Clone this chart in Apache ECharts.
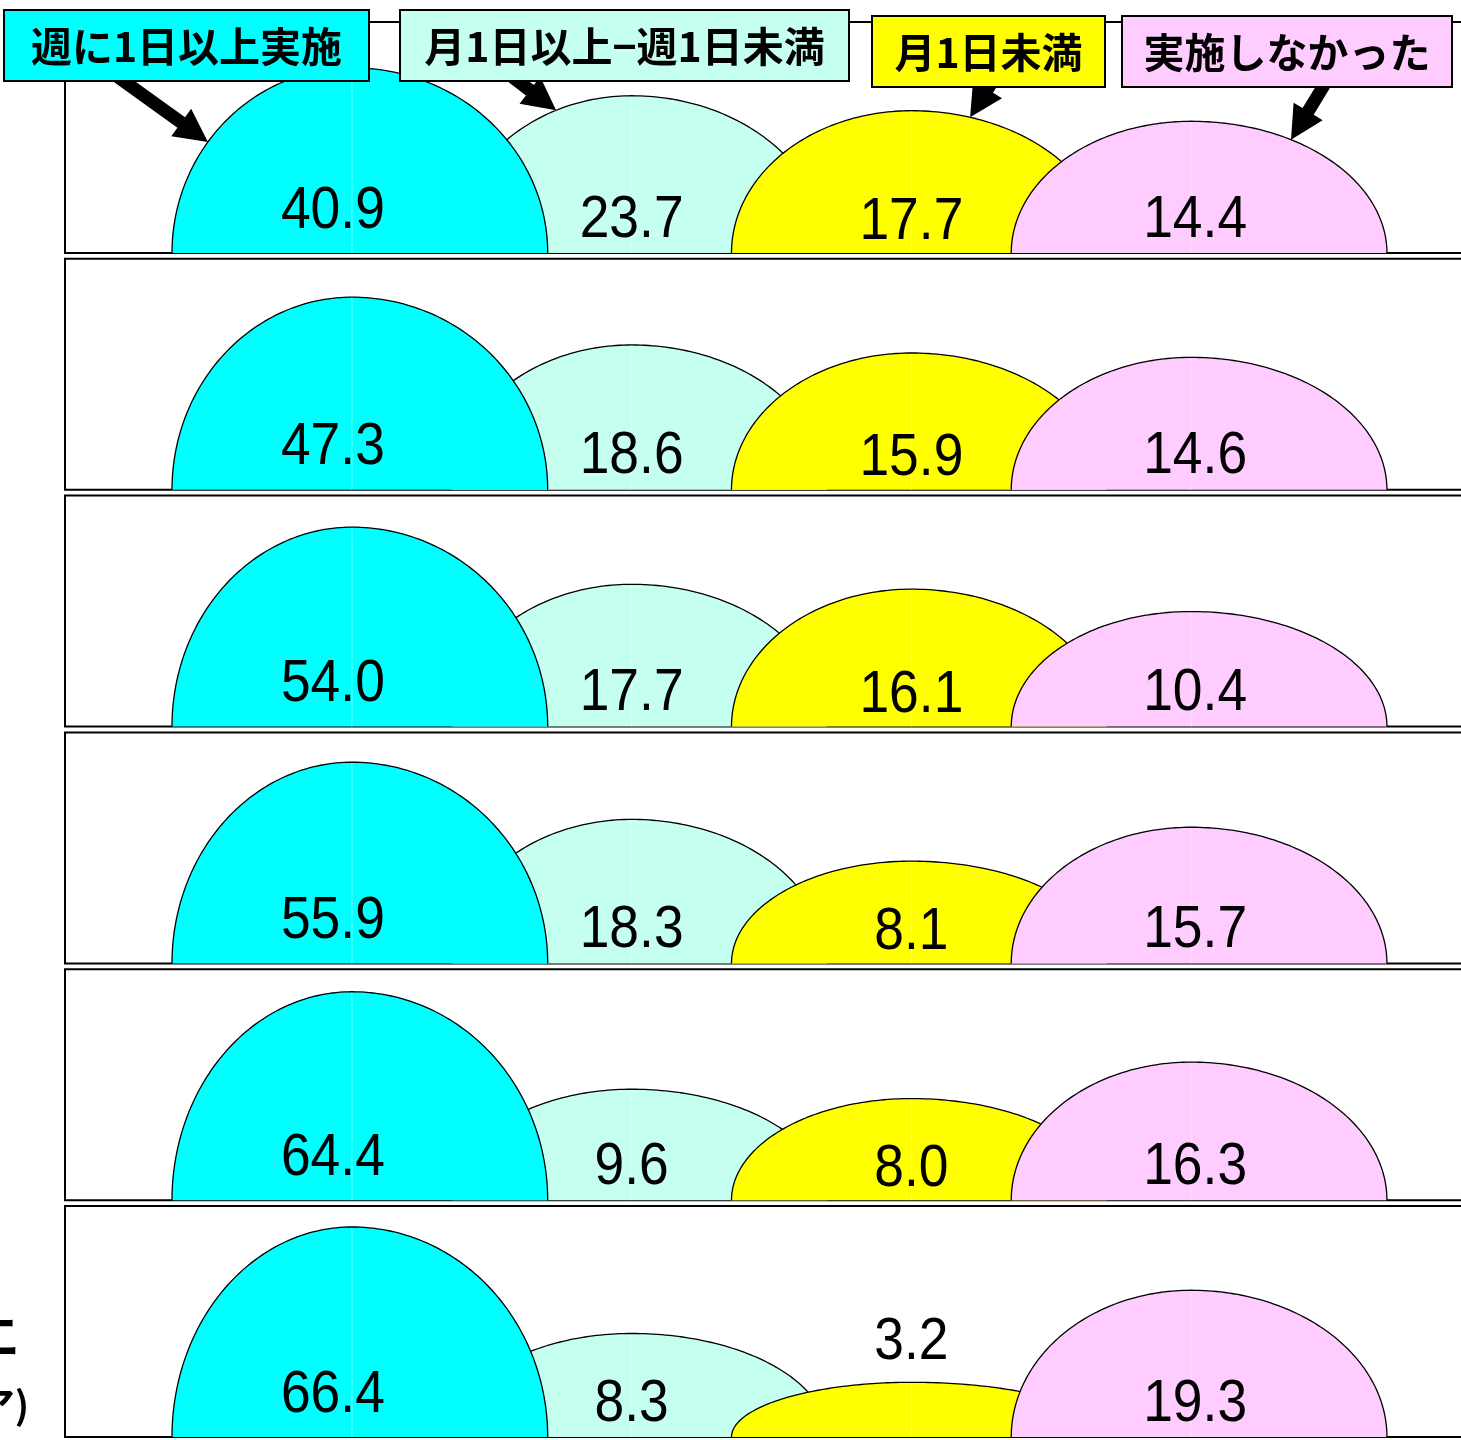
<!DOCTYPE html>
<html>
<head>
<meta charset="utf-8">
<script src="https://cdn.jsdelivr.net/npm/echarts@6/dist/echarts.min.js"></script>
<style>
  html, body { margin: 0; padding: 0; background: #ffffff; }
  #chart { width: 1461px; height: 1440px; }
</style>
</head>
<body>
<div id="chart"></div>
<script>
// Frequency bands (legend order, left to right in every panel)
const categories = ['週に1日以上実施', '月1日以上−週1日未満', '月1日未満', '実施しなかった'];

// Share of respondents (%) per band, one value per panel from top to bottom
const weeklyOrMore    = [40.9, 47.3, 54.0, 55.9, 64.4, 66.4];
const monthlyToWeekly = [23.7, 18.6, 17.7, 18.3, 9.6, 8.3];
const lessThanMonthly = [17.7, 15.9, 16.1, 8.1, 8.0, 3.2];
const notAtAll        = [14.4, 14.6, 10.4, 15.7, 16.3, 19.3];

const bandSeries = [weeklyOrMore, monthlyToWeekly, lessThanMonthly, notAtAll];
const bandColors = ['#00FFFF', '#C4FFF0', '#FFFF00', '#FFCCFF'];

// ---- layout ----
const PANEL_COUNT = weeklyOrMore.length;
const PANEL_TOP = 22;
const PANEL_PITCH = 236.8;
const PANEL_H = 231;
const FRAME_LEFT = 65;
const GRID_LEFT = 212;
const GRID_RIGHT = 130;
const Y_MIN = 1.1;
const Y_MAX = 100;

// dome half-widths as a fraction of the category band (left / right quarter)
const HALF_L = 0.643;
const HALF_R = 0.70;

// value label placement per band
const LABEL_DX = [-19, 0, 0, 4];
const LABEL_LIFT = [42, 33, 31, 33];
const SHORT_DOME = 70;        // below this height the label sits above the dome
const LABEL_ABOVE_GAP = 40;

// legend boxes and their pointer arrows (drawn against the first panel)
const LEGEND_BOXES = [
  { x: 4,    y: 10, w: 365, h: 71 },
  { x: 400,  y: 10, w: 449, h: 71 },
  { x: 872,  y: 16, w: 233, h: 71 },
  { x: 1122, y: 16, w: 330, h: 71 }
];
const ARROW_TAILS = [[118, 77], [510, 75], [992, 82], [1326, 82]];
const ARROW_AT = [-0.8, -0.42, 0.30, 0.51];   // where on the arc the arrow points
const ARROW_HEAD_LEN = 33;
const ARROW_HEAD_HALF = 17;
const ARROW_SHAFT_HALF = 6.5;

function arrowPoints(tail, tip) {
  const dx = tip[0] - tail[0], dy = tip[1] - tail[1];
  const len = Math.sqrt(dx * dx + dy * dy);
  const ux = dx / len, uy = dy / len;
  const nx = -uy, ny = ux;
  const bx = tip[0] - ux * ARROW_HEAD_LEN, by = tip[1] - uy * ARROW_HEAD_LEN;
  return [
    [tail[0] + nx * ARROW_SHAFT_HALF, tail[1] + ny * ARROW_SHAFT_HALF],
    [bx + nx * ARROW_SHAFT_HALF, by + ny * ARROW_SHAFT_HALF],
    [bx + nx * ARROW_HEAD_HALF, by + ny * ARROW_HEAD_HALF],
    [tip[0], tip[1]],
    [bx - nx * ARROW_HEAD_HALF, by - ny * ARROW_HEAD_HALF],
    [bx - nx * ARROW_SHAFT_HALF, by - ny * ARROW_SHAFT_HALF],
    [tail[0] - nx * ARROW_SHAFT_HALF, tail[1] - ny * ARROW_SHAFT_HALF]
  ];
}

function makeDomeRenderer(panel) {
  return function (params, api) {
    const cat = api.value(0);
    const val = api.value(1);
    const cs = params.coordSys;
    const base = cs.y + cs.height;
    const topPt = api.coord([cat, val]);
    const cx = topPt[0];
    const h = base - topPt[1];
    const band = api.coord([1, val])[0] - api.coord([0, val])[0];
    const rl = band * HALF_L;
    const rr = band * HALF_R;

    const arc = [];
    const N = 72;
    for (let k = 0; k <= N; k++) {
      const a = (Math.PI / 2) * k / N;
      arc.push([cx - rl * Math.cos(a), base - h * Math.sin(a)]);
    }
    for (let k = 1; k <= N; k++) {
      const a = (Math.PI / 2) * k / N;
      arc.push([cx + rr * Math.sin(a), base - h * Math.cos(a)]);
    }
    const layer = cat === 0 ? 10 : cat; // the first dome sits over its neighbour

    const children = [
      {
        type: 'polygon',
        z2: layer,
        shape: { points: arc },
        style: { fill: bandColors[cat], stroke: null }
      },
      {
        type: 'line',
        z2: layer,
        shape: { x1: cx, y1: base, x2: cx, y2: topPt[1] + 1 },
        style: { stroke: 'rgba(255,255,255,0.45)', lineWidth: 1 }
      },
      {
        type: 'polyline',
        z2: layer,
        shape: { points: arc },
        style: { stroke: '#000000', lineWidth: 1.3, fill: null }
      }
    ];

    const labelY = h < SHORT_DOME ? topPt[1] - LABEL_ABOVE_GAP : base - LABEL_LIFT[cat];
    children.push({
      type: 'text',
      z2: 50,
      x: cx + LABEL_DX[cat],
      y: labelY,
      scaleX: 0.89,
      style: {
        text: val.toFixed(1),
        fontFamily: 'Liberation Sans, Arial, sans-serif',
        fontSize: 60,
        fill: '#000000',
        align: 'center',
        verticalAlign: 'middle'
      }
    });

    if (panel === 0) {
      const f = ARROW_AT[cat];
      const r = f < 0 ? rl : rr;
      const tip = [cx + f * r, base - h * Math.sqrt(1 - f * f)];
      children.push({
        type: 'polygon',
        z2: 60,
        shape: { points: arrowPoints(ARROW_TAILS[cat], tip) },
        style: { fill: '#000000', stroke: null }
      });
    }

    return { type: 'group', children: children };
  };
}

const grids = [], xAxes = [], yAxes = [], series = [], frames = [];
for (let p = 0; p < PANEL_COUNT; p++) {
  const top = PANEL_TOP + p * PANEL_PITCH;
  grids.push({ left: GRID_LEFT, right: GRID_RIGHT, top: top, height: PANEL_H });
  xAxes.push({ type: 'category', gridIndex: p, data: categories, boundaryGap: true, show: false });
  yAxes.push({ type: 'log', gridIndex: p, min: Y_MIN, max: Y_MAX, show: false });
  series.push({
    type: 'custom',
    name: 'panel' + (p + 1),
    xAxisIndex: p,
    yAxisIndex: p,
    clip: false,
    silent: true,
    renderItem: makeDomeRenderer(p),
    encode: { x: 0, y: 1 },
    data: categories.map((c, i) => [i, bandSeries[i][p]])
  });
  frames.push({
    type: 'rect',
    id: 'frame' + p,
    z: 0,
    shape: { x: FRAME_LEFT, y: top, width: 1461 - FRAME_LEFT + 20, height: PANEL_H },
    style: { fill: null, stroke: '#000000', lineWidth: 2 }
  });
}

const legendBoxes = LEGEND_BOXES.map((b, i) => ({
  type: 'group',
  id: 'legend' + i,
  z: 20,
  children: [
    {
      type: 'rect',
      z: 20,
      shape: { x: b.x, y: b.y, width: b.w, height: b.h },
      style: { fill: bandColors[i], stroke: '#000000', lineWidth: 2 }
    },
    {
      type: 'text',
      z: 21,
      x: b.x + b.w / 2,
      y: b.y + b.h / 2 + 1,
      style: {
        text: categories[i],
        fontFamily: 'Noto Sans CJK JP, sans-serif',
        fontWeight: 'bold',
        fontSize: 41,
        fill: '#000000',
        align: 'center',
        verticalAlign: 'middle'
      }
    }
  ]
}));

// row caption of the last panel, running off the left edge
const edgeCaptions = [
  {
    type: 'text', id: 'cap1', z: 5, x: 19, y: 1336,
    style: { text: 'エ', fontFamily: 'Noto Sans CJK JP, sans-serif', fontWeight: 'bold', fontSize: 50,
             fill: '#000000', align: 'right', verticalAlign: 'middle' }
  },
  {
    type: 'text', id: 'cap2', z: 5, x: 29, y: 1405,
    style: { text: 'ア)', fontFamily: 'Noto Sans CJK JP, sans-serif', fontWeight: 'bold', fontSize: 38,
             fill: '#000000', align: 'right', verticalAlign: 'middle' }
  }
];

const chart = echarts.init(document.getElementById('chart'), null, { renderer: 'canvas' });
chart.setOption({
  animation: false,
  backgroundColor: '#ffffff',
  grid: grids,
  xAxis: xAxes,
  yAxis: yAxes,
  series: series,
  graphic: { elements: frames.concat(legendBoxes, edgeCaptions) }
});
</script>
</body>
</html>
